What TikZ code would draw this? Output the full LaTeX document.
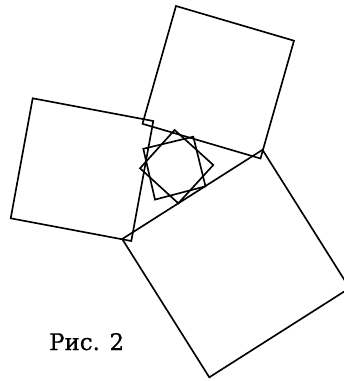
\documentclass[tikz,border=0pt]{standalone}
\usepackage{fontspec}
\setmainfont{DejaVu Serif}
\newfontfamily\capfont[FakeBold=0.6]{DejaVu Serif}

\begin{document}
\begin{tikzpicture}[
        x=0.03cm,
        y=-0.03cm,
        side/.style={
            draw,
            line width=1.4pt,
            line join=miter
        },
        caption/.style={
            font=\capfont\fontsize{19.5}{22}\selectfont,
            anchor=base west,
            inner sep=0pt
        }
    ]
        \useasboundingbox (0,0) rectangle (344,381);
        \clip (0,0) rectangle (344,381);

        % upper square
        \coordinate (top1) at (176,6);
        \coordinate (top2) at (294,40.7);
        \coordinate (top3) at (260.5,158.5);
        \coordinate (top4) at (142.5,123.8);
        % left square
        \coordinate (left1) at (32.7,98.3);
        \coordinate (left2) at (153.3,121);
        \coordinate (left3) at (131.3,241);
        \coordinate (left4) at (10.7,218.3);
        % lower square
        \coordinate (low1) at (122.2,239);
        \coordinate (low2) at (262.5,149.8);
        \coordinate (low3) at (349.6,288.1);
        \coordinate (low4) at (209.3,377.3);
        % inner squares
        \coordinate (inA1) at (143.3,148.8);
        \coordinate (inA2) at (193.3,136.7);
        \coordinate (inA3) at (205.5,186.3);
        \coordinate (inA4) at (155,199.6);
        \coordinate (inB1) at (174.6,130);
        \coordinate (inB2) at (213.3,165);
        \coordinate (inB3) at (178.3,203.3);
        \coordinate (inB4) at (140,168.3);

        \draw[side] (top1) -- (top2) -- (top3) -- (top4) -- cycle;
        \draw[side] (left1) -- (left2) -- (left3) -- (left4) -- cycle;
        \draw[side] (low1) -- (low2) -- (low3) -- (low4) -- cycle;
        \draw[side] (inA1) -- (inA2) -- (inA3) -- (inA4) -- cycle;
        \draw[side] (inB1) -- (inB2) -- (inB3) -- (inB4) -- cycle;

        \node[caption] (fig) at (49,350) {Рис. 2};
    \end{tikzpicture}
\end{document}
